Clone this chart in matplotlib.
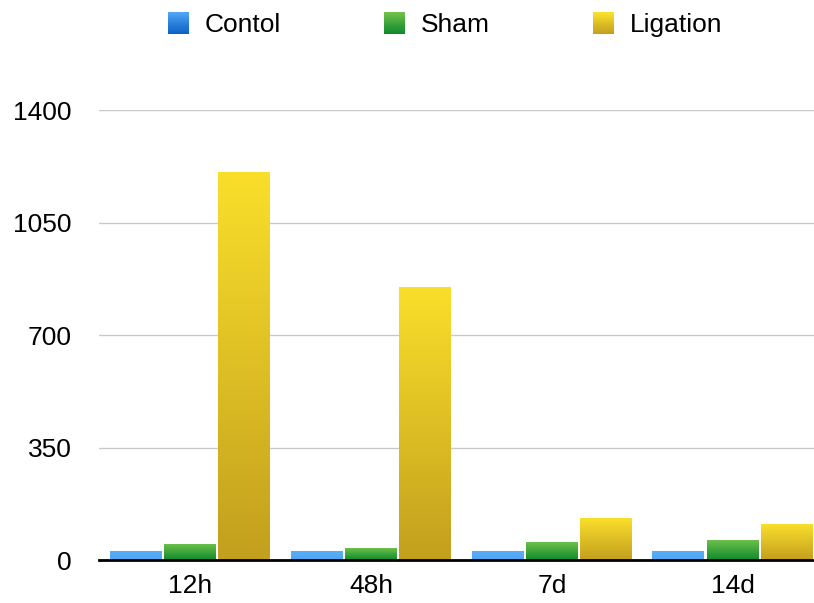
import numpy as np
import matplotlib.pyplot as plt
from matplotlib.legend_handler import HandlerBase
from matplotlib.patches import Rectangle
from matplotlib.colors import LinearSegmentedColormap

plt.rcParams['font.family'] = ['Liberation Sans', 'DejaVu Sans']

groups = ['12h', '48h', '7d', '14d']
series = ['Contol', 'Sham', 'Ligation']
control = [28, 28, 28, 28]
sham = [47, 37, 53, 62]
ligation = [1207, 849, 128, 112]
yticks = [0, 350, 700, 1050, 1400]

# top / bottom colours of each series gradient
grad = {
    'Contol': ('#58adf7', '#4fa6f5'),
    'Sham': ('#6cc04a', '#0f8a2c'),
    'Ligation': ('#f9df2b', '#c39f1e'),
}
legend_grad = {
    'Contol': ('#4ea3f2', '#0a62c6'),
    'Sham': ('#6cc04a', '#0f8a2c'),
    'Ligation': ('#f9df2b', '#c39f1e'),
}


def cmap_of(top, bottom):
    return LinearSegmentedColormap.from_list('g', [bottom, top])


class GradHandler(HandlerBase):
    def __init__(self, top, bottom):
        super().__init__()
        self.top, self.bottom = top, bottom

    def create_artists(self, legend, orig, xd, yd, w, h, fs, trans):
        s = w
        x0 = xd
        y0 = yd + (h - s) / 2
        cm = cmap_of(self.top, self.bottom)
        n = 20
        arts = []
        for i in range(n):
            r = Rectangle((x0, y0 + s * i / n), s, s / n + 0.2,
                          facecolor=cm(i / (n - 1)), edgecolor='none',
                          transform=trans)
            arts.append(r)
        return arts


fig = plt.figure(figsize=(8.14, 6.03), dpi=100)
ax = fig.add_axes([0.1222, 0.0713, 0.8894, 0.746])

x = np.arange(len(groups))
width = 0.287
step = 0.301
grad_img = np.linspace(0, 1, 256).reshape(-1, 1)
handles = []
for k, (name, vals) in enumerate(zip(series, [control, sham, ligation])):
    cm = cmap_of(*grad[name])
    for xi, v in zip(x, vals):
        x0 = xi + (k - 1) * step - width / 2
        ax.imshow(grad_img, cmap=cm, origin='lower', aspect='auto',
                  extent=(x0, x0 + width, 0, v), zorder=3)
    handles.append(Rectangle((0, 0), 1, 1, label=name))

ax.set_xlim(-0.5, 3.5)
ax.set_ylim(0, 1400)
ax.set_yticks(yticks)
ax.set_xticks(x)
ax.set_xticklabels(groups)
ax.yaxis.grid(True, color='#c8c8c8', linewidth=1)
ax.set_axisbelow(True)
for s in ['top', 'right', 'left']:
    ax.spines[s].set_visible(False)
ax.spines['bottom'].set_linewidth(2)
ax.spines['bottom'].set_zorder(5)
ax.tick_params(length=0, labelsize=19, pad=10)
ax.tick_params(axis='y', pad=20)

fig.legend(handles=handles, loc='upper center', bbox_to_anchor=(0.547, 1.017),
           ncol=3, frameon=False, fontsize=19, handlelength=0.8,
           handletextpad=0.6, columnspacing=3.9,
           handler_map={h: GradHandler(*legend_grad[h.get_label()]) for h in handles})

fig.savefig('out.png', dpi=100)
